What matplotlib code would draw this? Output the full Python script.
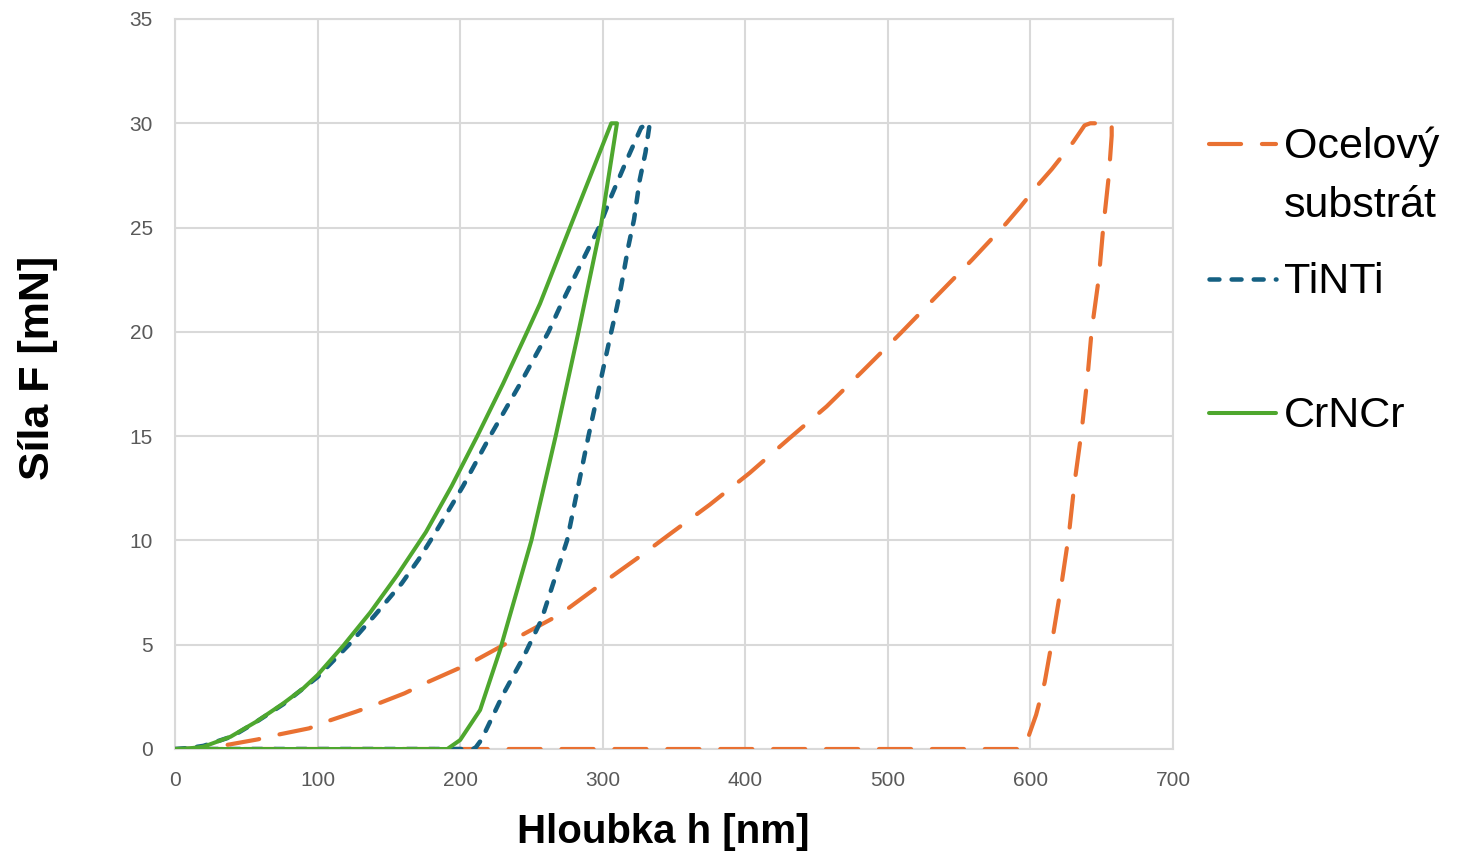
import matplotlib
matplotlib.use("Agg")
import matplotlib.pyplot as plt
from matplotlib.lines import Line2D

# ---- data ----
steel_h = [0, 20, 36, 58, 71, 94, 106, 127, 140, 161, 178, 207, 237, 270, 298, 326, 347, 375, 403,
           431, 457, 482, 509, 534, 559, 583, 593, 606, 615, 630, 638, 642, 657,
           657, 655, 651, 648, 643, 640, 636, 631, 627, 622, 616, 610, 604, 599, 594, 0]
steel_F = [0, 0.02, 0.19, 0.46, 0.67, 0.99, 1.31, 1.79, 2.11, 2.67, 3.23, 4.11, 5.23, 6.45, 7.86, 9.23, 10.3, 11.71, 13.23,
           14.9, 16.42, 18.1, 19.94, 21.7, 23.45, 25.2, 26.0, 27.1, 27.8, 29.1, 29.9, 30, 30,
           29.4, 27.5, 24.95, 22.6, 20.1, 17.8, 15.3, 12.8, 10.3, 8.0, 5.5, 3.2, 1.64, 0.67, 0, 0]

tinti_h = [0, 10, 20, 40, 57, 76, 100, 122, 140, 159, 171, 182, 202, 221, 242, 262, 270, 285, 298, 306, 317, 327, 333,
           333, 330, 326, 322, 318, 313, 310, 306, 290, 275, 257, 244, 230, 222, 215, 211, 209, 0]
tinti_F = [0, 0.05, 0.15, 0.6, 1.3, 2.15, 3.45, 5.0, 6.4, 7.94, 9.1, 10.3, 12.6, 15.0, 17.5, 20.0, 21.2, 23.3, 25.1, 26.5, 28.26, 29.8, 30,
           30, 28.6, 27.3, 25.4, 24.1, 22.2, 21.2, 20.0, 15.0, 10.0, 6.19, 4.35, 2.6, 1.45, 0.45, 0.08, 0, 0]

crncr_h = [0, 10, 20, 39, 57, 76, 90, 100, 118, 137, 156, 176, 194, 212, 230, 247, 256, 277, 306,
           310, 299, 283, 267, 250, 233, 228, 214, 200, 191, 0]
crncr_F = [0, 0.03, 0.11, 0.59, 1.31, 2.19, 2.91, 3.55, 4.95, 6.55, 8.35, 10.4, 12.6, 15, 17.5, 20, 21.35, 25, 30,
           30, 25.2, 20, 15, 10, 5.95, 4.75, 1.87, 0.43, 0, 0]

series_names = ["Ocelový\nsubstrát", "TiNTi", "CrNCr"]
x_ticks = [0, 100, 200, 300, 400, 500, 600, 700]
y_ticks = [0, 5, 10, 15, 20, 25, 30, 35]

c_orange = "#E97132"
c_blue = "#156082"
c_green = "#4EA72E"
grid_c = "#D9D9D9"
tick_c = "#595959"

fig = plt.figure(figsize=(14.83, 8.52), dpi=100)
ax = fig.add_axes([175 / 1483, 1 - 749 / 852, (1173 - 175) / 1483, (749 - 19) / 852])

st_orange = dict(color=c_orange, lw=3.0, ls=(0, (7.7, 5.0)), dash_capstyle="round", solid_capstyle="round")
st_blue = dict(color=c_blue, lw=3.25, ls=(0, (2.2, 2.7)), dash_capstyle="round", solid_capstyle="round")
st_green = dict(color=c_green, lw=2.9, ls="-", solid_capstyle="round", solid_joinstyle="round")

ax.plot(steel_h, steel_F, **st_orange, zorder=3)
ax.plot(tinti_h, tinti_F, **st_blue, zorder=4)
ax.plot(crncr_h, crncr_F, **st_green, zorder=5)

ax.set_xlim(0, 700)
ax.set_ylim(0, 35)
ax.set_xticks(x_ticks)
ax.set_yticks(y_ticks)
ax.grid(True, color=grid_c, lw=1.5, zorder=0)
ax.set_axisbelow(True)
for s in ax.spines.values():
    s.set_color(grid_c)
    s.set_linewidth(1.5)
ax.tick_params(length=0, labelsize=15, labelcolor=tick_c, pad=16)
for lab in ax.get_xticklabels() + ax.get_yticklabels():
    lab.set_family("Liberation Sans")

ax.set_xlabel("Hloubka h [nm]", fontsize=29, fontweight="bold", family="Liberation Sans")
ax.set_ylabel("Síla F [mN]", fontsize=31, fontweight="bold", family="Liberation Sans")
ax.xaxis.set_label_coords((663.5 - 175) / 998, (749 - 813) / 730)
ax.yaxis.set_label_coords((58 - 175) / 998, (749 - 368) / 730)

# ---- legend (drawn manually to match layout) ----
W, H = 1483, 852
def fx(px):
    return px / W
def fy(py):
    return 1 - py / H

handles = [(144, st_orange), (279, st_blue), (413, st_green)]
for yy, st in handles:
    fig.add_artist(Line2D([fx(1209), fx(1276)], [fy(yy), fy(yy)], transform=fig.transFigure, **st))

leg_font = dict(fontsize=31, family="Liberation Sans", color="black", va="baseline", ha="left")
lines0 = series_names[0].split("\n")
fig.text(fx(1284), fy(158), lines0[0], **leg_font)
fig.text(fx(1284), fy(217), lines0[1], **leg_font)
fig.text(fx(1284), fy(293), series_names[1], **leg_font)
fig.text(fx(1284), fy(427), series_names[2], **leg_font)

fig.savefig("out.png", dpi=100)
